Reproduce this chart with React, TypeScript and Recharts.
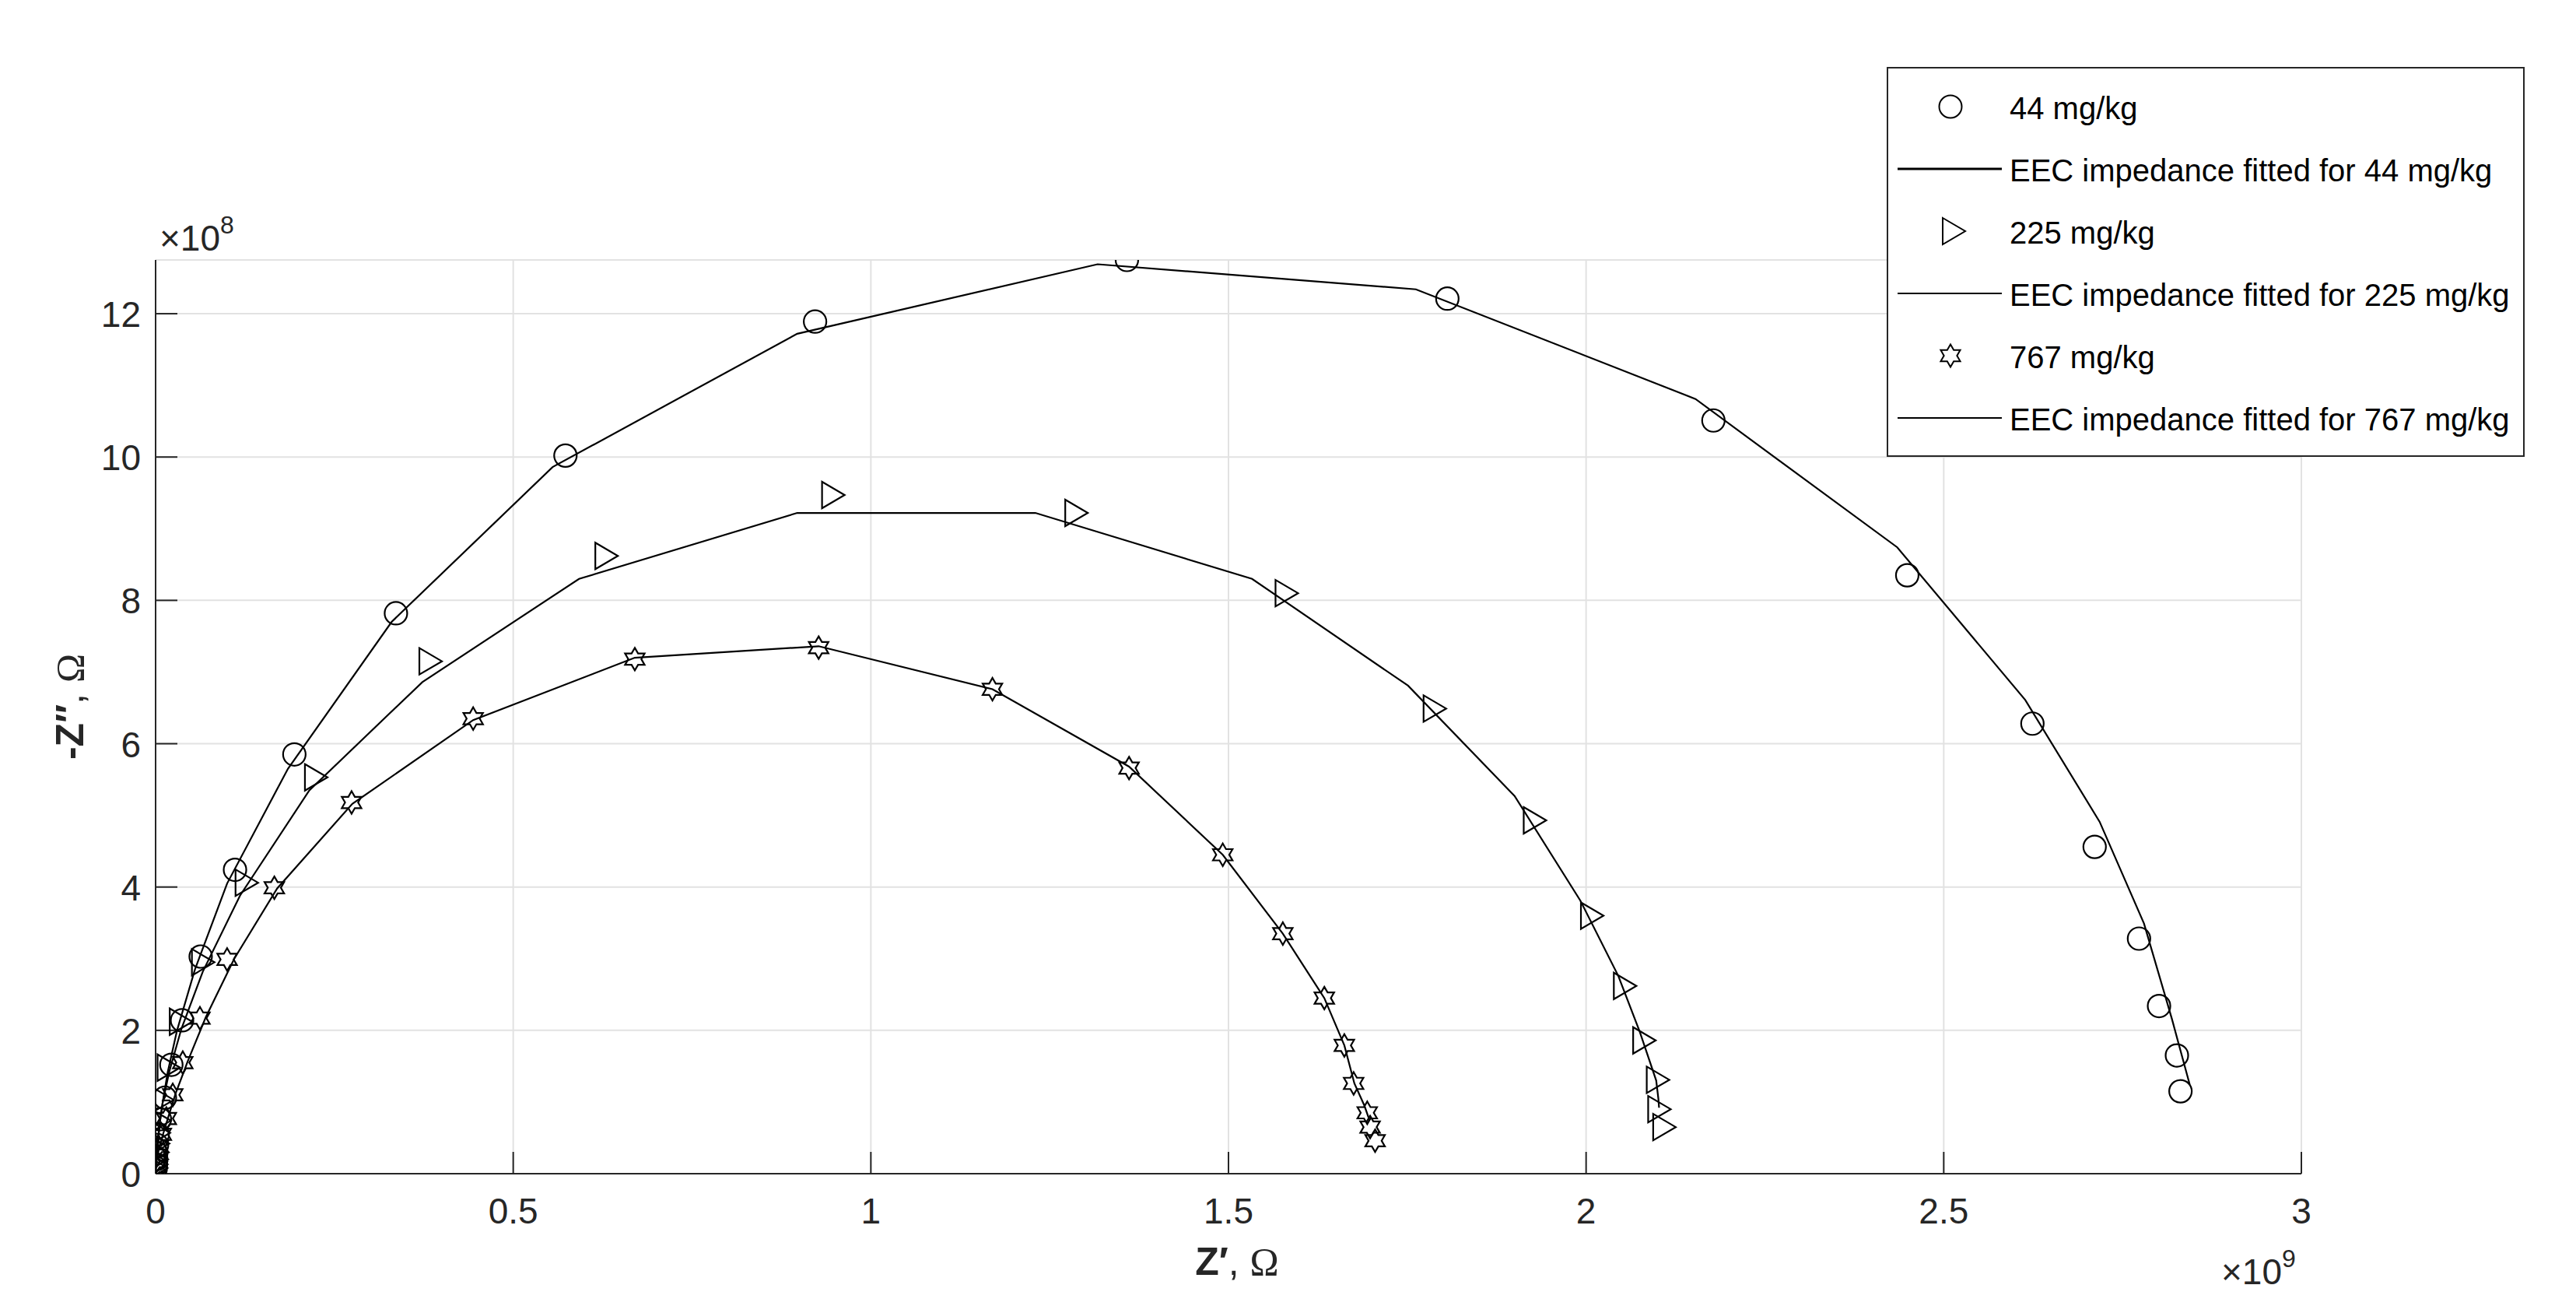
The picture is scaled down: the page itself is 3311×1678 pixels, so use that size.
import React from 'react';
import { ScatterChart, Scatter, XAxis, YAxis, CartesianGrid, Customized } from 'recharts';

// Axis multipliers (values below are given in units of these)
const X_UNIT = 1e9;
const Y_UNIT = 1e8;

const xTicks = [0, 0.5, 1, 1.5, 2, 2.5, 3];
const yTicks = [0, 2, 4, 6, 8, 10, 12];
const xTickLabels = ['0', '0.5', '1', '1.5', '2', '2.5', '3'];
const yTickLabels = ['0', '2', '4', '6', '8', '10', '12'];

const legendLabels = [
  '44 mg/kg',
  'EEC impedance fitted for 44 mg/kg',
  '225 mg/kg',
  'EEC impedance fitted for 225 mg/kg',
  '767 mg/kg',
  'EEC impedance fitted for 767 mg/kg',
];

// [Z' (x1e9), -Z'' (x1e8)]
const meas44: [number, number][] = [
  [0.0003, 0.08], [0.0005, 0.13], [0.001, 0.2], [0.001, 0.29], [0.002, 0.4], [0.003, 0.55],
  [0.006, 0.76], [0.013, 1.06], [0.022, 1.52], [0.037, 2.14], [0.063, 3.03], [0.111, 4.24],
  [0.194, 5.85], [0.336, 7.82], [0.573, 10.02], [0.922, 11.89], [1.358, 12.75], [1.806, 12.21],
  [2.178, 10.51], [2.449, 8.35], [2.624, 6.28], [2.711, 4.56], [2.773, 3.28], [2.801, 2.34],
  [2.826, 1.65], [2.831, 1.15],
];
const fit44: [number, number][] = [
  [0, 0], [0.0003, 0.07], [0.0006, 0.12], [0.001, 0.19], [0.0015, 0.27], [0.002, 0.37], [0.004, 0.52],
  [0.006, 0.72], [0.010, 1.0], [0.017, 1.42], [0.030, 2.0], [0.055, 2.85], [0.100, 4.05],
  [0.185, 5.65], [0.330, 7.70], [0.555, 9.86], [0.897, 11.72], [1.317, 12.69], [1.762, 12.34],
  [2.153, 10.81], [2.435, 8.74], [2.614, 6.61], [2.718, 4.91], [2.780, 3.49], [2.819, 2.16],
  [2.844, 1.24],
];

const meas225: [number, number][] = [
  [0.0003, 0.08], [0.0005, 0.13], [0.001, 0.2], [0.002, 0.3], [0.003, 0.42], [0.004, 0.57],
  [0.005, 0.74], [0.009, 1.03], [0.018, 1.48], [0.035, 2.12], [0.066, 2.95], [0.127, 4.06],
  [0.224, 5.53], [0.384, 7.15], [0.630, 8.62], [0.947, 9.47], [1.287, 9.22], [1.581, 8.10],
  [1.788, 6.49], [1.928, 4.93], [2.008, 3.60], [2.054, 2.62], [2.081, 1.86], [2.100, 1.31],
  [2.102, 0.90], [2.109, 0.65],
];
const fit225: [number, number][] = [
  [0, 0], [0.0003, 0.07], [0.0006, 0.12], [0.001, 0.19], [0.002, 0.28], [0.003, 0.40], [0.004, 0.54],
  [0.006, 0.72], [0.010, 1.0], [0.019, 1.42], [0.036, 2.02], [0.066, 2.82], [0.118, 3.88],
  [0.215, 5.35], [0.373, 6.86], [0.592, 8.30], [0.897, 9.22], [1.230, 9.22], [1.533, 8.30],
  [1.751, 6.81], [1.900, 5.27], [1.992, 3.81], [2.045, 2.76], [2.075, 1.98], [2.098, 1.30],
  [2.101, 1.05], [2.102, 0.92],
];

const meas767: [number, number][] = [
  [0.0005, 0.1], [0.001, 0.17], [0.002, 0.26], [0.004, 0.38], [0.008, 0.55], [0.015, 0.77],
  [0.024, 1.1], [0.038, 1.55], [0.062, 2.17], [0.1, 2.99], [0.166, 3.99], [0.274, 5.18],
  [0.444, 6.35], [0.670, 7.18], [0.927, 7.34], [1.170, 6.76], [1.361, 5.66], [1.492, 4.45],
  [1.576, 3.35], [1.634, 2.45], [1.662, 1.79], [1.675, 1.26], [1.694, 0.85], [1.698, 0.65],
  [1.705, 0.46],
];
const fit767: [number, number][] = [
  [0, 0], [0.0003, 0.06], [0.0007, 0.11], [0.0015, 0.18], [0.003, 0.27], [0.006, 0.40], [0.011, 0.57],
  [0.018, 0.80], [0.028, 1.12], [0.045, 1.57], [0.07, 2.18], [0.11, 3.0], [0.17, 3.98],
  [0.275, 5.16], [0.444, 6.33], [0.670, 7.20], [0.927, 7.36], [1.170, 6.76], [1.361, 5.68],
  [1.492, 4.45], [1.576, 3.35], [1.634, 2.45], [1.662, 1.79], [1.676, 1.26], [1.690, 0.95],
  [1.697, 0.75],
];

const toPts = (arr: [number, number][]) => arr.map(([x, y]) => ({ x: x * X_UNIT, y: y * Y_UNIT }));

const AX = '#262626';
const SANS = '"Liberation Sans", Arial, Helvetica, sans-serif';
const SERIF = '"Liberation Serif", "Times New Roman", serif';
const TICK_FS = 46;

const CircleMark = (p: any) => (
  <circle cx={p.cx} cy={p.cy} r={14.5} fill="none" stroke="#000" strokeWidth={2.2} />
);
const triPoints = (cx: number, cy: number) =>
  `${cx - 14},${cy - 17} ${cx + 15},${cy} ${cx - 14},${cy + 17}`;
const TriMark = (p: any) => (
  <polygon points={triPoints(p.cx, p.cy)} fill="none" stroke="#000" strokeWidth={2.2} />
);
const hexPoints = (cx: number, cy: number) => {
  const R = 14.5;
  const r = R / Math.sqrt(3);
  const pts: string[] = [];
  for (let i = 0; i < 12; i++) {
    const a = (-90 + i * 30) * Math.PI / 180;
    const rad = i % 2 === 0 ? R : r;
    pts.push(`${(cx + rad * Math.cos(a)).toFixed(2)},${(cy + rad * Math.sin(a)).toFixed(2)}`);
  }
  return pts.join(' ');
};
const HexMark = (p: any) => (
  <polygon points={hexPoints(p.cx, p.cy)} fill="none" stroke="#000" strokeWidth={2.2} />
);
const NoMark = () => <g />;

const XTick = (p: any) => {
  const i = xTicks.indexOf(p.payload.value / X_UNIT);
  return (
    <text x={p.x} y={1572} textAnchor="middle" fontSize={TICK_FS} fontFamily={SANS} fill={AX}>
      {i >= 0 ? xTickLabels[i] : ''}
    </text>
  );
};
const YTick = (p: any) => {
  const i = yTicks.indexOf(Math.round(p.payload.value / Y_UNIT));
  return (
    <text x={181} y={p.y + 17} textAnchor="end" fontSize={TICK_FS} fontFamily={SANS} fill={AX}>
      {i >= 0 ? yTickLabels[i] : ''}
    </text>
  );
};

const Decorations = () => {
  const rows = [137, 217, 297, 377, 457, 537];
  const mx = 2507;
  return (
    <g>
      {/* exponent labels */}
      <text x={205} y={322} fontSize={TICK_FS} fontFamily={SANS} fill={AX}>
        <tspan>×10</tspan>
        <tspan dy={-22} fontSize={32}>8</tspan>
      </text>
      <text x={2855} y={1650} fontSize={TICK_FS} fontFamily={SANS} fill={AX}>
        <tspan>×10</tspan>
        <tspan dy={-22} fontSize={32}>9</tspan>
      </text>
      {/* axis titles */}
      <text x={1590} y={1638} textAnchor="middle" fontSize={50} fill={AX} fontFamily={SANS}>
        <tspan fontWeight="bold">Z′</tspan>
        <tspan>, </tspan>
        <tspan fontFamily={SERIF}>Ω</tspan>
      </text>
      <text x={107} y={908} transform="rotate(-90, 107, 908)" textAnchor="middle" fontSize={50} fill={AX} fontFamily={SANS}>
        <tspan fontWeight="bold">-Z″</tspan>
        <tspan>, </tspan>
        <tspan fontFamily={SERIF}>Ω</tspan>
      </text>
      {/* legend */}
      <rect x={2426} y={87} width={818} height={499} fill="#fff" stroke={AX} strokeWidth={2} />
      <circle cx={mx} cy={rows[0]} r={14.5} fill="none" stroke="#000" strokeWidth={2} />
      <line x1={2439} x2={2573} y1={rows[1]} y2={rows[1]} stroke="#000" strokeWidth={3} />
      <polygon points={triPoints(mx + 4, rows[2])} fill="none" stroke="#000" strokeWidth={2} />
      <line x1={2439} x2={2573} y1={rows[3]} y2={rows[3]} stroke="#000" strokeWidth={2} />
      <polygon points={hexPoints(mx, rows[4])} fill="none" stroke="#000" strokeWidth={2} />
      <line x1={2439} x2={2573} y1={rows[5]} y2={rows[5]} stroke="#000" strokeWidth={2} />
      {legendLabels.map((t, i) => (
        <text key={t} x={2583} y={rows[i] + 16} fontSize={40} fontFamily={SANS} fill="#000">
          {t}
        </text>
      ))}
    </g>
  );
};

export default function App() {
  const xDomain = [0, 3 * X_UNIT];
  const yDomain = [0, 12.75 * Y_UNIT];
  const xt = xTicks.map((t) => t * X_UNIT);
  const yt = yTicks.map((t) => t * Y_UNIT);
  return (
    <div style={{ position: 'absolute', left: 0, top: 0, width: 3311, height: 1678, background: '#fff' }}>
      <ScatterChart width={3311} height={1678} margin={{ top: 334, right: 353, bottom: 70, left: 100 }}>
        <CartesianGrid stroke="#e2e2e2" strokeWidth={2} />
        <XAxis
          type="number" dataKey="x" domain={xDomain} ticks={xt} allowDataOverflow interval={0}
          height={100} tickSize={-28} tickMargin={0}
          axisLine={{ stroke: AX, strokeWidth: 2 }} tickLine={{ stroke: AX, strokeWidth: 2 }}
          tick={<XTick />}
        />
        <XAxis
          xAxisId="top" orientation="top" type="number" dataKey="x" domain={xDomain} ticks={xt}
          allowDataOverflow interval={0} height={0} tickSize={-28} tickMargin={0}
          axisLine={{ stroke: AX, strokeWidth: 2 }} tickLine={{ stroke: AX, strokeWidth: 2 }}
          tick={false}
        />
        <YAxis
          type="number" dataKey="y" domain={yDomain} ticks={yt} allowDataOverflow interval={0}
          width={100} tickSize={-28} tickMargin={0}
          axisLine={{ stroke: AX, strokeWidth: 2 }} tickLine={{ stroke: AX, strokeWidth: 2 }}
          tick={<YTick />}
        />
        <YAxis
          yAxisId="right" orientation="right" type="number" dataKey="y" domain={yDomain} ticks={yt}
          allowDataOverflow interval={0} width={0} tickSize={-28} tickMargin={0}
          axisLine={{ stroke: AX, strokeWidth: 2 }} tickLine={{ stroke: AX, strokeWidth: 2 }}
          tick={false}
        />
        <Scatter name="44 mg/kg" data={toPts(meas44)} shape={CircleMark} isAnimationActive={false} />
        <Scatter name="fit44" data={toPts(fit44)} shape={NoMark} line={{ stroke: '#000', strokeWidth: 2.2 }} lineType="joint" isAnimationActive={false} />
        <Scatter name="225 mg/kg" data={toPts(meas225)} shape={TriMark} isAnimationActive={false} />
        <Scatter name="fit225" data={toPts(fit225)} shape={NoMark} line={{ stroke: '#000', strokeWidth: 2.2 }} lineType="joint" isAnimationActive={false} />
        <Scatter name="767 mg/kg" data={toPts(meas767)} shape={HexMark} isAnimationActive={false} />
        <Scatter name="fit767" data={toPts(fit767)} shape={NoMark} line={{ stroke: '#000', strokeWidth: 2.2 }} lineType="joint" isAnimationActive={false} />
        <Customized component={Decorations} />
      </ScatterChart>
    </div>
  );
}
